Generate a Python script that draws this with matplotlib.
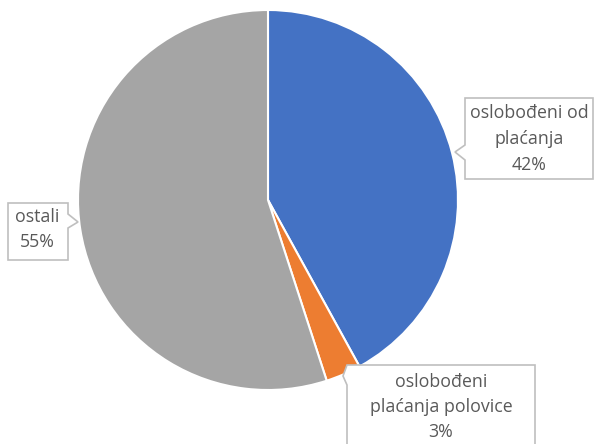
import matplotlib.pyplot as plt
from matplotlib.patches import Polygon

# data
labels = [['oslobođeni od', 'plaćanja'], ['oslobođeni', 'plaćanja polovice'], ['ostali']]
values = [42, 3, 55]
colors = ['#4472C4', '#ED7D31', '#A5A5A5']

W, H = 597, 444
fig = plt.figure(figsize=(5.97, 4.44), dpi=100)
ax = fig.add_axes([0, 0, 1, 1])
ax.set_xlim(0, W)
ax.set_ylim(0, H)
ax.set_aspect('equal')
ax.axis('off')

ax.pie(values, colors=colors, startangle=90, counterclock=False,
       center=(268, H - 200), radius=190,
       wedgeprops=dict(edgecolor='white', linewidth=1.5))
ax.set_xlim(0, W)
ax.set_ylim(0, H)

def callout(pts, cx, ytop, lines, step=26):
    # pts in pixel coords from top-left
    poly = Polygon([(x, H - y) for x, y in pts], closed=True,
                   facecolor='white', edgecolor='#BFBFBF', linewidth=1.2, zorder=5)
    ax.add_patch(poly)
    for i, s in enumerate(lines):
        ax.text(cx, H - (ytop + i * step), s, ha='center', va='center',
                fontsize=12.8, color='#595959', family='Open Sans', zorder=6)

pct = [f'{v}%' for v in values]

callout([(465, 98), (593, 98), (593, 179), (465, 179), (465, 160),
         (455, 152), (465, 145)],
        529, 113, labels[0] + [pct[0]])
callout([(8, 203), (68, 203), (68, 214), (78, 222), (68, 228),
         (68, 260), (8, 260)],
        37, 217, labels[2] + [pct[2]], step=25)
callout([(347, 365), (535, 365), (535, 450), (347, 450), (347, 385),
         (343, 376)],
        441, 382, labels[1] + [pct[1]], step=25)

fig.savefig('out.png', dpi=100)
